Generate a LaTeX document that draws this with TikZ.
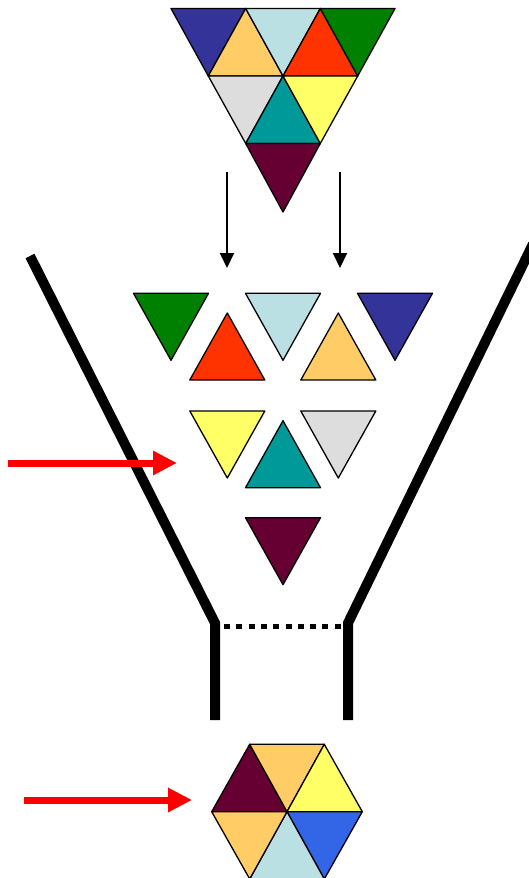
\documentclass[tikz,border=0pt]{standalone}
\usetikzlibrary{arrows.meta}
\definecolor{navyTri}{HTML}{333399}
\definecolor{peachTri}{HTML}{FFCC66}
\definecolor{iceTri}{HTML}{BBE0E3}
\definecolor{redTri}{HTML}{FF3300}
\definecolor{greenTri}{HTML}{008000}
\definecolor{greyTri}{HTML}{DDDDDD}
\definecolor{tealTri}{HTML}{009999}
\definecolor{yellowTri}{HTML}{FFFF66}
\definecolor{plumTri}{HTML}{660033}
\definecolor{blueTri}{HTML}{3366E6}
\definecolor{pushRed}{HTML}{FF0000}
\tikzset{
  piece/.style ={draw=black, line width=1.3pt, line join=round},
  wall/.style  ={line width=10pt, line join=miter},
  gap/.style   ={line width=5pt, dash pattern=on 6pt off 6.3pt},
  feed/.style  ={-{Triangle[length=15pt, width=14pt]}, line width=2pt},
  push/.style  ={draw=pushRed, line width=7pt, -{Triangle[length=24pt, width=23pt]}},
}
% loose pieces: apex x, top/base y, fill
\newcommand{\downtri}[3]{\filldraw[piece, fill=#3] (#1-37.5,#2) -- (#1+37.5,#2) -- (#1,#2+67) -- cycle;}
\newcommand{\uptri}[3]{\filldraw[piece, fill=#3] (#1-37.5,#2) -- (#1+37.5,#2) -- (#1,#2-67) -- cycle;}

\begin{document}
\begin{tikzpicture}[x=1pt, y=-1pt]
  \useasboundingbox (0,0) rectangle (529,878);
  \clip (0,0) rectangle (529,878);

  % assembled triangle
  \coordinate (t1) at (171,8.5);   \coordinate (t2) at (245.7,8.5);
  \coordinate (t3) at (320.3,8.5); \coordinate (t4) at (395,8.5);
  \coordinate (m1) at (208.3,76);  \coordinate (m2) at (283,76);
  \coordinate (m3) at (357.7,76);
  \coordinate (b1) at (245.7,143.5); \coordinate (b2) at (320.3,143.5);
  \coordinate (ap) at (283,212);
  \filldraw[piece, fill=navyTri]   (t1) -- (t2) -- (m1) -- cycle;
  \filldraw[piece, fill=peachTri]  (m1) -- (t2) -- (m2) -- cycle;
  \filldraw[piece, fill=iceTri]    (t2) -- (t3) -- (m2) -- cycle;
  \filldraw[piece, fill=redTri]    (m2) -- (t3) -- (m3) -- cycle;
  \filldraw[piece, fill=greenTri]  (t3) -- (t4) -- (m3) -- cycle;
  \filldraw[piece, fill=greyTri]   (m1) -- (m2) -- (b1) -- cycle;
  \filldraw[piece, fill=tealTri]   (b1) -- (m2) -- (b2) -- cycle;
  \filldraw[piece, fill=yellowTri] (m2) -- (m3) -- (b2) -- cycle;
  \filldraw[piece, fill=plumTri]   (b1) -- (b2) -- (ap) -- cycle;

  % break-up arrows
  \coordinate (fl0) at (227,172); \coordinate (fl1) at (227,268);
  \coordinate (fr0) at (340,172); \coordinate (fr1) at (340,268);
  \draw[feed] (fl0) -- (fl1);
  \draw[feed] (fr0) -- (fr1);

  % loose pieces
  \downtri{171}{293.3}{greenTri}
  \downtri{283}{293.3}{iceTri}
  \downtri{395}{293.3}{navyTri}
  \uptri{227.3}{380}{redTri}
  \uptri{338.3}{380}{peachTri}
  \downtri{227.3}{411}{yellowTri}
  \downtri{338.3}{411}{greyTri}
  \uptri{283}{487.7}{tealTri}
  \downtri{283}{517.7}{plumTri}

  % funnel
  \coordinate (lTop) at (30,256);  \coordinate (lBend) at (215,623); \coordinate (lFoot) at (215,720);
  \coordinate (rTop) at (533,244); \coordinate (rBend) at (348,623); \coordinate (rFoot) at (348,720);
  \draw[wall] (lTop) -- (lBend) -- (lFoot);
  \draw[wall] (rTop) -- (rBend) -- (rFoot);
  \coordinate (gl) at (224,626); \coordinate (gr) at (345,626);
  \draw[gap] (gl) -- (gr);

  % red arrows
  \coordinate (pa0) at (8,463);  \coordinate (pa1) at (177,463);
  \coordinate (pb0) at (24,800); \coordinate (pb1) at (192,800);
  \draw[push] (pa0) -- (pa1);
  \draw[push] (pb0) -- (pb1);

  % hexagon
  \coordinate (hc) at (287,811.7);
  \coordinate (h1) at (211.7,811.7); \coordinate (h2) at (249.7,744.3);
  \coordinate (h3) at (324.3,744.3); \coordinate (h4) at (362.3,811.7);
  \coordinate (h5) at (324.3,879);   \coordinate (h6) at (249.7,879);
  \filldraw[piece, fill=plumTri]   (h1) -- (h2) -- (hc) -- cycle;
  \filldraw[piece, fill=peachTri]  (h2) -- (h3) -- (hc) -- cycle;
  \filldraw[piece, fill=yellowTri] (h3) -- (h4) -- (hc) -- cycle;
  \filldraw[piece, fill=blueTri]   (h4) -- (h5) -- (hc) -- cycle;
  \filldraw[piece, fill=iceTri]    (h5) -- (h6) -- (hc) -- cycle;
  \filldraw[piece, fill=peachTri]  (h6) -- (h1) -- (hc) -- cycle;
\end{tikzpicture}
\end{document}
